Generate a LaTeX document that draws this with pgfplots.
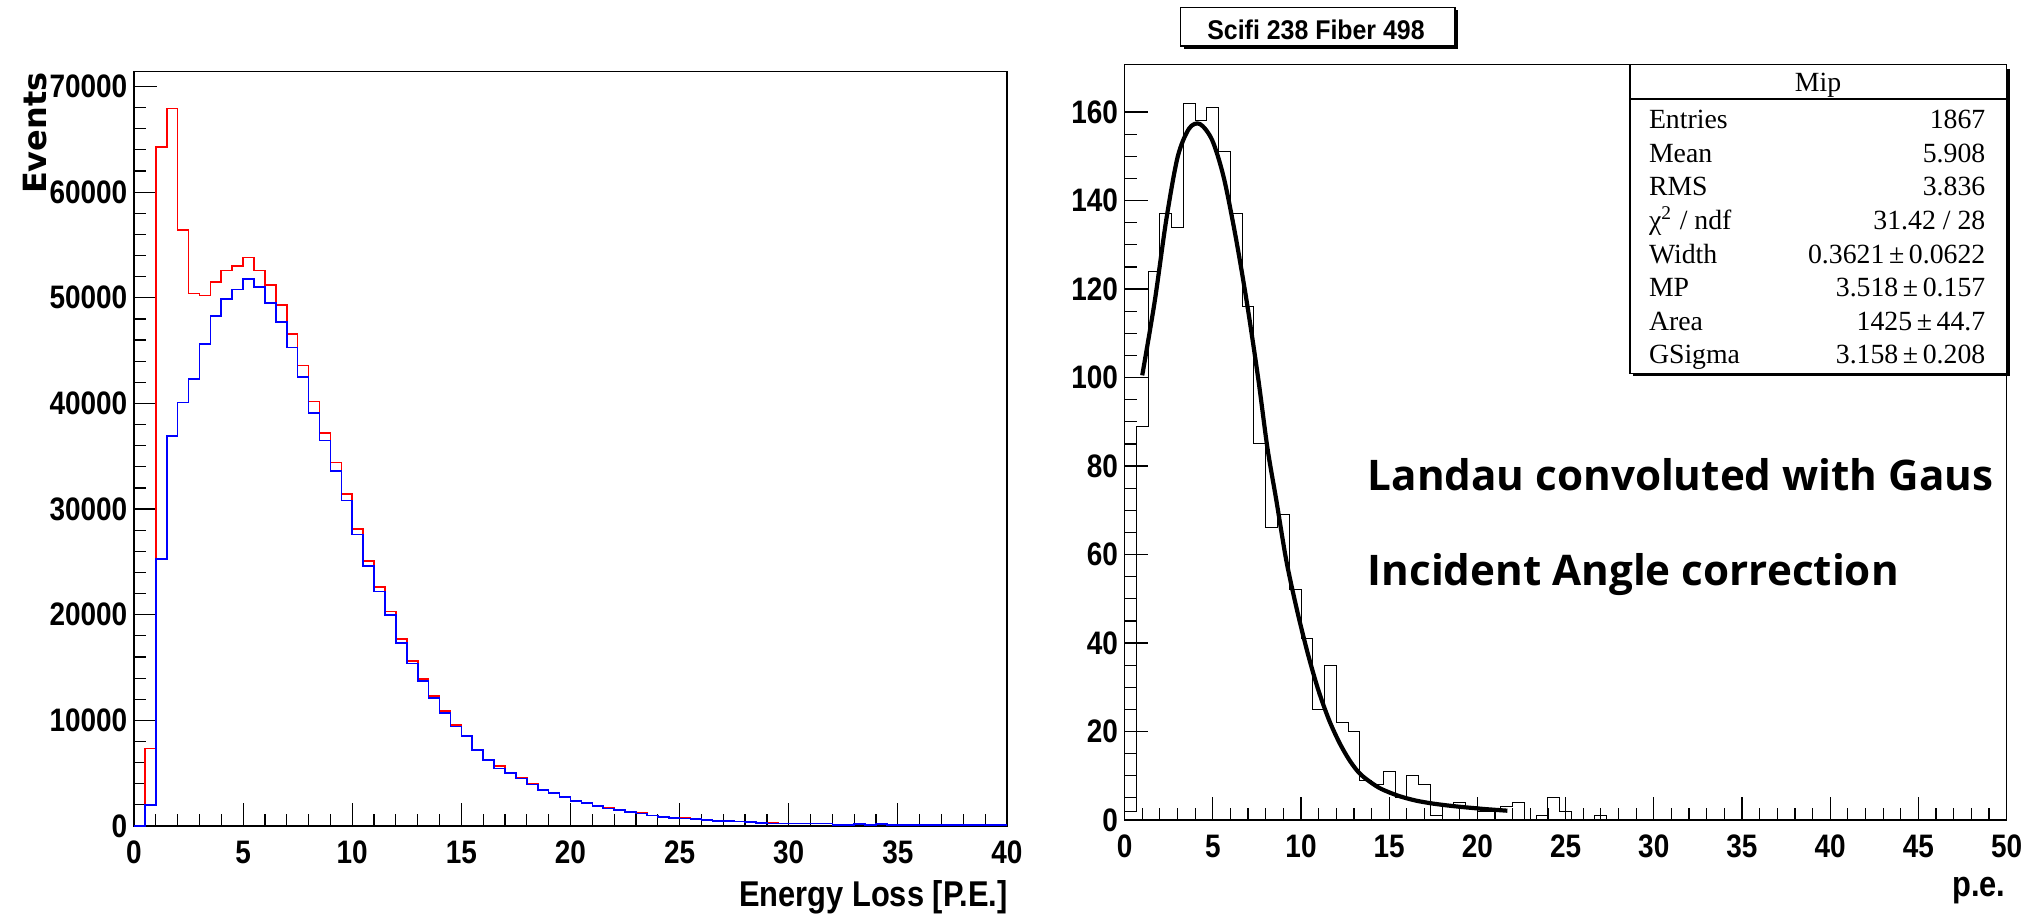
\documentclass[border=0pt]{standalone}
\usepackage{pgfplots}
\pgfplotsset{compat=1.18}
\usepackage{fontspec}
\setmainfont{Liberation Sans}
\newfontfamily\rootfont[FakeStretch=0.86]{Liberation Sans}
\newfontfamily\titlefont[FakeStretch=0.92]{Liberation Sans}
\newfontfamily\evfont{DejaVu Sans}
\newfontfamily\statfont{Liberation Serif}
\newfontfamily\notefont{Open Sans}

\pgfplotsset{
  rootaxis/.style={
    scale only axis, clip=false,
    axis line style={black, line width=0.15mm},
    tick align=inside, xtick pos=bottom, ytick pos=left,
    major tick length=2.3mm, minor tick length=1.25mm,
    every tick/.style={black, line width=0.12mm},
    ticklabel style={font=\rootfont\bfseries\fontsize{9.25}{10}\selectfont, inner sep=0pt},
    xticklabel style={yshift=-1.4mm},
    yticklabel style={xshift=-0.6mm},
    minor x tick num=4,
    scaled ticks=false,
  }
}

\begin{document}
\begin{tikzpicture}
\path[use as bounding box] (0,0) rectangle (204mm,91.7mm);

% left: energy loss, before / after correction
\begin{axis}[rootaxis, at={(13.4mm,9.1mm)}, anchor=south west,
  width=87.3mm, height=75.43mm,
  xmin=0, xmax=40, ymin=0, ymax=71400,
  xtick={0,5,...,40}, xticklabels={0,5,10,15,20,25,30,35,40},
  ytick={0,10000,...,70000},
  yticklabels={0,10000,20000,30000,40000,50000,60000,70000},
  minor y tick num=4]
\addplot[red, line width=0.16mm, const plot] coordinates {
(0,0) (0.5,7350) (1,64300) (1.5,67900) (2,56400) (2.5,50400) (3,50200) (3.5,51500)
(4,52600) (4.5,53000) (5,53800) (5.5,52600) (6,51200) (6.5,49300) (7,46600) (7.5,43600)
(8,40200) (8.5,37200) (9,34400) (9.5,31400) (10,28100) (10.5,25100) (11,22600) (11.5,20300)
(12,17700) (12.5,15600) (13,13900) (13.5,12300) (14,10900) (14.5,9550) (15,8550) (15.5,7250)
(16,6300) (16.5,5700) (17,5080) (17.5,4520) (18,3960) (18.5,3420) (19,3170) (19.5,2790)
(20,2390) (20.5,2170) (21,1920) (21.5,1690) (22,1510) (22.5,1360) (23,1210) (23.5,990)
(24,890) (24.5,790) (25,730) (25.5,660) (26,580) (26.5,510) (27,460) (27.5,430)
(28,410) (28.5,270) (29,260) (29.5,250) (30,250) (30.5,240) (31,240) (31.5,230)
(32,110) (32.5,110) (33,220) (33.5,110) (34,210) (34.5,100) (40,100)};
\addplot[blue, line width=0.16mm, const plot] coordinates {
(0,0) (0.5,2000) (1,25300) (1.5,36900) (2,40100) (2.5,42300) (3,45600) (3.5,48300)
(4,49900) (4.5,50800) (5,51800) (5.5,51000) (6,49500) (6.5,47700) (7,45300) (7.5,42500)
(8,39100) (8.5,36500) (9,33600) (9.5,30800) (10,27600) (10.5,24600) (11,22200) (11.5,20000)
(12,17300) (12.5,15400) (13,13700) (13.5,12100) (14,10700) (14.5,9400) (15,8500) (15.5,7200)
(16,6240) (16.5,5460) (17,5040) (17.5,4500) (18,3940) (18.5,3400) (19,3150) (19.5,2770)
(20,2370) (20.5,2150) (21,1900) (21.5,1670) (22,1500) (22.5,1350) (23,1200) (23.5,980)
(24,880) (24.5,780) (25,720) (25.5,650) (26,570) (26.5,500) (27,450) (27.5,420)
(28,400) (28.5,260) (29,250) (29.5,240) (30,240) (30.5,230) (31,230) (31.5,220)
(32,100) (32.5,100) (33,210) (33.5,100) (34,200) (34.5,90) (40,90)};
\end{axis}

% right: single fibre, Landau x Gauss fit
\begin{axis}[rootaxis, at={(112.46mm,9.7mm)}, anchor=south west,
  width=88.2mm, height=75.57mm,
  xmin=0, xmax=50, ymin=0, ymax=170.8,
  xtick={0,5,...,50}, xticklabels={0,5,10,15,20,25,30,35,40,45,50},
  ytick={0,20,...,160}, yticklabels={0,20,40,60,80,100,120,140,160},
  minor y tick num=3]
\addplot[black, line width=0.1mm, const plot] coordinates {
(0,2) (0.6667,89) (1.3333,124) (2,137) (2.6667,134) (3.3333,162) (4,158) (4.6667,161)
(5.3333,151) (6,137) (6.6667,116) (7.3333,85) (8,66) (8.6667,69) (9.3333,52) (10,41)
(10.6667,25) (11.3333,35) (12,22) (12.6667,20) (13.3333,9) (14,8) (14.6667,11) (15.3333,5)
(16,10) (16.6667,8) (17.3333,1) (18,3) (18.6667,4) (19.3333,3) (20,2) (20.6667,2)
(21.3333,3) (22,4) (22.6667,0) (23.3333,1) (24,5) (24.6667,2) (25.3333,0) (26,0)
(26.6667,1) (27.3333,0) (50,0)};
\addplot[black, line width=0.42mm, smooth] coordinates {
(1.0,100.5) (1.71,117.3) (2.36,135.6) (3.01,149.9) (3.66,156.3) (4.27,157.3) (4.96,153.7)
(5.61,145.4) (6.26,132.6) (6.91,117.5) (7.56,100.2) (8.1,84) (8.6,72.3) (9.16,58.8)
(9.77,47.5) (10.38,37.7) (10.98,29.4) (11.59,22.6) (12.2,17.3) (12.8,13.2) (13.41,10.2)
(14.42,7.3) (15.5,5.5) (16.5,4.4) (17.5,3.7) (18.5,3.2) (19.5,2.8) (20.5,2.45) (21.7,2.1)};
\end{axis}

% axis titles
\node[anchor=base east, inner sep=0pt, font=\rootfont\bfseries\fontsize{10.2}{12}\selectfont]
  at (100.83mm,1.03mm) {Energy Loss [P.E.]};
\node[anchor=base east, inner sep=0pt, font=\rootfont\bfseries\fontsize{10.2}{12}\selectfont]
  at (200.6mm,2.03mm) {p.e.};
\node[rotate=90, anchor=base east, inner sep=0pt, font=\evfont\bfseries\fontsize{9.1}{10}\selectfont]
  at (4.67mm,84.53mm) {Events};

% histogram title box
\fill[black] (118.37mm,86.8mm) rectangle (145.8mm,90.67mm);
\draw[black, line width=0.12mm, fill=white] (118.07mm,87.1mm) rectangle (145.5mm,90.97mm);
\node[anchor=base, inner sep=0pt, font=\titlefont\bfseries\fontsize{7.7}{9}\selectfont]
  at (131.6mm,87.7mm) {Scifi 238 Fiber 498};

% stats box
\fill[black] (163.3mm,54.07mm) rectangle (200.97mm,84.77mm);
\draw[black, line width=0.12mm, fill=white] (163.0mm,54.37mm) rectangle (200.67mm,85.27mm);
\draw[black, line width=0.12mm] (163.0mm,81.8mm) -- (200.67mm,81.8mm);
\begin{scope}[every node/.style={inner sep=0pt, font=\statfont\fontsize{7.9}{9}\selectfont}]
\node[anchor=base] at (181.8mm,82.53mm) {Mip};
\node[anchor=base west] at (164.83mm,78.8mm) {Entries};
\node[anchor=base west] at (164.83mm,75.45mm) {Mean};
\node[anchor=base west] at (164.83mm,72.1mm) {RMS};
\node[anchor=base west] at (164.83mm,68.75mm) {χ\textsuperscript{2} / ndf};
\node[anchor=base west] at (164.83mm,65.4mm) {Width};
\node[anchor=base west] at (164.83mm,62.05mm) {MP};
\node[anchor=base west] at (164.83mm,58.7mm) {Area};
\node[anchor=base west] at (164.83mm,55.35mm) {GSigma};
\node[anchor=base east] at (198.6mm,78.8mm) {1867};
\node[anchor=base east] at (198.6mm,75.45mm) {5.908};
\node[anchor=base east] at (198.6mm,72.1mm) {3.836};
\node[anchor=base east] at (198.6mm,68.75mm) {31.42 / 28};
\node[anchor=base east] at (198.6mm,65.4mm) {0.3621\,±\,0.0622};
\node[anchor=base east] at (198.6mm,62.05mm) {3.518\,±\,0.157};
\node[anchor=base east] at (198.6mm,58.7mm) {1425\,±\,44.7};
\node[anchor=base east] at (198.6mm,55.35mm) {3.158\,±\,0.208};
\end{scope}

% annotations
\node[anchor=base west, inner sep=0pt, font=\notefont\bfseries\fontsize{12}{14}\selectfont]
  at (136.7mm,42.63mm) {Landau convoluted with Gaus};
\node[anchor=base west, inner sep=0pt, font=\notefont\bfseries\fontsize{12}{14}\selectfont]
  at (136.7mm,33.2mm) {Incident Angle correction};
\end{tikzpicture}
\end{document}
